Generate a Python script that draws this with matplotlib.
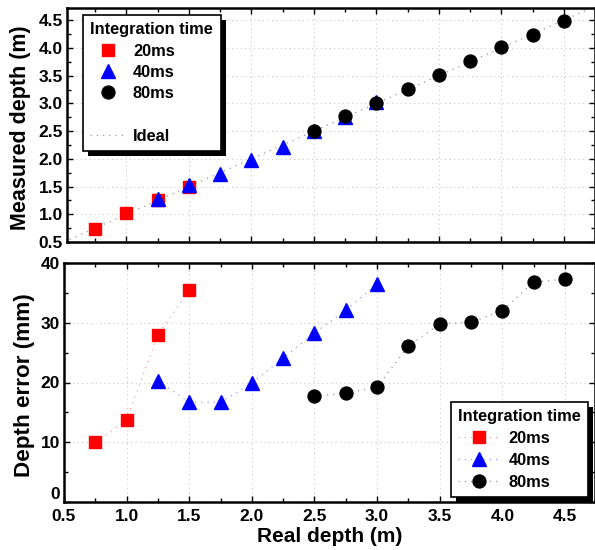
import matplotlib
matplotlib.use("Agg")
import matplotlib.pyplot as plt
from matplotlib.lines import Line2D
from matplotlib.patches import Rectangle
from matplotlib.ticker import MultipleLocator

plt.rcParams['font.family'] = ['Liberation Sans', 'DejaVu Sans']
plt.rcParams['font.weight'] = 'bold'

# ---- data ----
real_20 = [0.75, 1.0, 1.25, 1.5]
real_40 = [1.25, 1.5, 1.75, 2.0, 2.25, 2.5, 2.75, 3.0]
real_80 = [2.5, 2.75, 3.0, 3.25, 3.5, 3.75, 4.0, 4.25, 4.5]

meas_20 = [0.74, 1.02, 1.26, 1.50]
meas_40 = [1.28, 1.52, 1.72, 1.97, 2.21, 2.50, 2.76, 3.02]
meas_80 = [2.50, 2.77, 3.00, 3.26, 3.51, 3.77, 4.02, 4.24, 4.48]

err_20 = [10.0, 13.7, 28.0, 35.5]
err_40 = [20.3, 16.7, 16.7, 19.9, 24.1, 28.3, 32.1, 36.5]
err_80 = [17.7, 18.2, 19.2, 26.1, 29.8, 30.1, 32.0, 36.8, 37.3]

ideal_x = [0.5, 4.75]

xticks = [0.5, 1.0, 1.5, 2.0, 2.5, 3.0, 3.5, 4.0, 4.5]
xticklabels = ['0.5', '1.0', '1.5', '2.0', '2.5', '3.0', '3.5', '4.0', '4.5']
yticks1 = [0.5, 1.0, 1.5, 2.0, 2.5, 3.0, 3.5, 4.0, 4.5]
yticklabels1 = ['0.5', '1.0', '1.5', '2.0', '2.5', '3.0', '3.5', '4.0', '4.5']
yticks2 = [0, 10, 20, 30, 40]
yticklabels2 = ['0', '10', '20', '30', '40']

labels = ['20ms', '40ms', '80ms']
colors = ['#ff0000', '#0000ff', '#000000']
line_colors = ['#ff9999', '#9999ff', '#999999']
markers = ['s', '^', 'o']
msizes = [8.3, 10.5, 9.3]

TICK_FS = 12.5
LABEL_FS = 15
LEG_FS = 11.8

W, H = 595, 550
fig = plt.figure(figsize=(W / 100, H / 100), dpi=100)
ax1 = fig.add_axes([67 / W, (H - 242) / H, (W - 67) / W, 234 / H])
ax2 = fig.add_axes([64 / W, (H - 502) / H, (W - 64) / W, 239 / H])

def style(ax):
    for s in ax.spines.values():
        s.set_linewidth(1.8)
    ax.tick_params(direction='in', which='both', top=True, right=True,
                   labelsize=TICK_FS, width=1.0, pad=3)
    ax.tick_params(which='major', length=4)
    ax.tick_params(which='minor', length=3)
    ax.grid(True, which='major', linestyle=(0, (1, 3)), color='#c8c8c8', linewidth=0.8)
    ax.xaxis.set_major_locator(MultipleLocator(0.5))
    ax.xaxis.set_minor_locator(MultipleLocator(0.25))

reals = [real_20, real_40, real_80]
meas = [meas_20, meas_40, meas_80]
errs = [err_20, err_40, err_80]

# ---- top panel ----
ideal_line, = ax1.plot(ideal_x, ideal_x, linestyle=(0, (1, 4)), color='#999999',
                       linewidth=0.9, zorder=2)
handles1 = []
for i in range(3):
    h, = ax1.plot(reals[i], meas[i], linestyle='none', marker=markers[i],
                  markersize=msizes[i], color=colors[i], markeredgecolor=colors[i],
                  zorder=3 + i)
    handles1.append(h)

ax1.set_xlim(0.5 + 3 / 125.5, 4.75)
ax1.set_ylim(0.5, 4.72)
ax1.yaxis.set_minor_locator(MultipleLocator(0.25))
style(ax1)
ax1.set_yticks(yticks1)
ax1.set_yticklabels(yticklabels1, fontweight='bold', fontsize=TICK_FS)
ax1.tick_params(labelbottom=False)
ax1.set_ylabel('Measured depth (m)', fontsize=LABEL_FS + 0.5, fontweight='bold')
ax1.yaxis.set_label_coords((31 - 67) / (W - 67), 0.49)

blank = Line2D([], [], linestyle='none', marker='none')
leg1 = ax1.legend(handles1 + [blank, ideal_line], labels + [' ', 'Ideal'],
                  title='Integration time', loc='upper left',
                  bbox_to_anchor=(16 / (W - 67), 1 - 7 / 234),
                  prop={'size': LEG_FS, 'weight': 'bold'},
                  title_fontproperties={'size': LEG_FS, 'weight': 'bold'},
                  frameon=True, fancybox=False, edgecolor='black', framealpha=1,
                  borderpad=0.45, labelspacing=0.38, handlelength=2.1,
                  handletextpad=0.5, borderaxespad=0, alignment='left')
leg1.get_frame().set_linewidth(1.2)
leg1.set_zorder(10)

# ---- bottom panel ----
handles2 = []
for i in range(3):
    h, = ax2.plot(reals[i], errs[i], linestyle=(0, (1, 4)), marker=markers[i],
                  markersize=msizes[i], color=line_colors[i], linewidth=0.9,
                  markerfacecolor=colors[i], markeredgecolor=colors[i], zorder=3 + i)
    handles2.append(h)

ax2.set_xlim(0.5, 4.74)
ax2.set_ylim(0, 40)
ax2.yaxis.set_minor_locator(MultipleLocator(5))
style(ax2)
ax2.set_xticks(xticks)
ax2.set_xticklabels(xticklabels, fontweight='bold', fontsize=TICK_FS)
ax2.set_yticks(yticks2)
ax2.set_yticklabels(yticklabels2, fontweight='bold', fontsize=TICK_FS)
ax2.tick_params(axis='x', pad=5)
ax2.get_yticklabels()[0].set_verticalalignment('bottom')
ax2.set_ylabel('Depth error (mm)', fontsize=LABEL_FS + 1.2, fontweight='bold')
ax2.yaxis.set_label_coords((35 - 64) / (W - 64), 0.49)
ax2.set_xlabel('Real depth (m)', fontsize=LABEL_FS, fontweight='bold', labelpad=2)

leg2 = ax2.legend(handles2, labels, title='Integration time', loc='lower right',
                  bbox_to_anchor=(1 - 7 / (W - 64), 5 / 239),
                  prop={'size': LEG_FS, 'weight': 'bold'},
                  title_fontproperties={'size': LEG_FS, 'weight': 'bold'},
                  frameon=True, fancybox=False, edgecolor='black', framealpha=1,
                  borderpad=0.45, labelspacing=0.42, handlelength=2.6,
                  handletextpad=0.5, borderaxespad=0, alignment='left')
leg2.get_frame().set_linewidth(1.2)
leg2.set_zorder(10)

# black drop shadows behind legends
fig.canvas.draw()
renderer = fig.canvas.get_renderer()
for ax, leg in [(ax1, leg1), (ax2, leg2)]:
    bb = leg.get_window_extent(renderer).transformed(fig.transFigure.inverted())
    sh = Rectangle((bb.x0 + 5 / W, bb.y0 - 5 / H), bb.width, bb.height,
                   transform=fig.transFigure, facecolor='black', edgecolor='none',
                   zorder=9)
    sh.set_clip_on(False)
    ax.add_artist(sh)

fig.savefig('out.png', dpi=100)
